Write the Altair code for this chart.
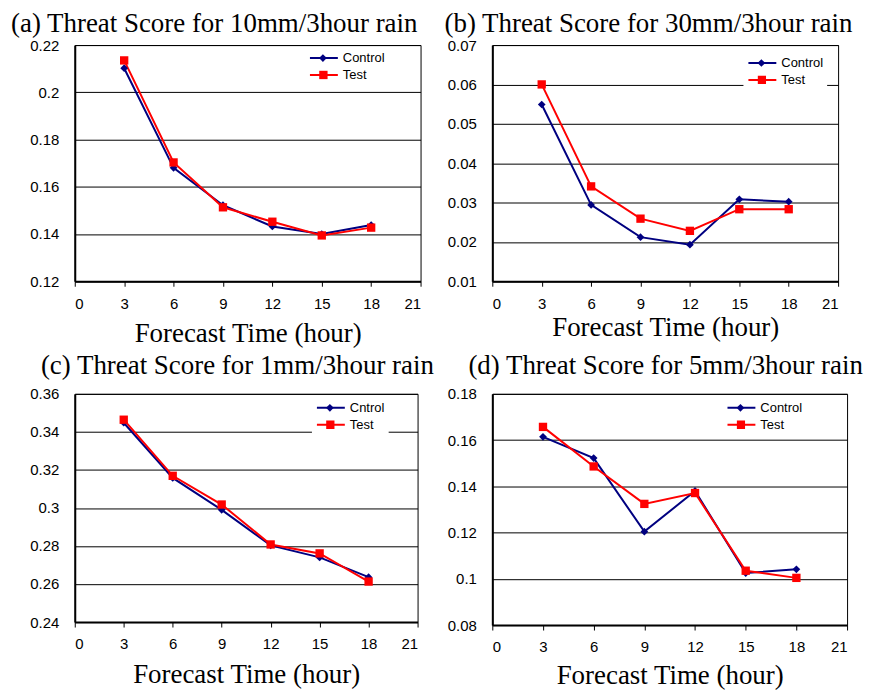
import altair as alt
import pandas as pd

hours = [3, 6, 9, 12, 15, 18]
x_ticks = [0, 3, 6, 9, 12, 15, 18, 21]

names_std = ["Control", "Test"]
names_c = ["Cntrol", "Test"]
series_colors = ["#000080", "#FF0000"]

a_control = [0.2102, 0.1680, 0.1522, 0.1432, 0.1400, 0.1438]
a_test = [0.2135, 0.1703, 0.1513, 0.1452, 0.1394, 0.1427]
b_control = [0.0549, 0.0294, 0.0212, 0.0193, 0.0308, 0.0302]
b_test = [0.0600, 0.0341, 0.0259, 0.0228, 0.0283, 0.0283]
c_control = [0.3448, 0.3158, 0.2990, 0.2803, 0.2740, 0.2636]
c_test = [0.3464, 0.3169, 0.3018, 0.2808, 0.2761, 0.2613]
d_control = [0.1614, 0.1522, 0.1204, 0.1380, 0.1025, 0.1041]
d_test = [0.1657, 0.1486, 0.1324, 0.1371, 0.1035, 0.1004]

a_ticks = [0.12, 0.14, 0.16, 0.18, 0.2, 0.22]
b_ticks = [0.01, 0.02, 0.03, 0.04, 0.05, 0.06, 0.07]
c_ticks = [0.24, 0.26, 0.28, 0.3, 0.32, 0.34, 0.36]
d_ticks = [0.08, 0.1, 0.12, 0.14, 0.16, 0.18]

titles = [
    "(a) Threat Score for 10mm/3hour rain",
    "(b) Threat Score for 30mm/3hour rain",
    "(c) Threat Score for 1mm/3hour rain",
    "(d) Threat Score for 5mm/3hour rain",
]
x_title = "Forecast Time (hour)"

SERIF = "Liberation Serif"
SANS = "Liberation Sans"


def panel(title, names, ctrl, test, yticks, width, height, title_dx, title_offset,
          xtitle_pad, lx, ly):
    df = pd.DataFrame({
        "hour": hours + hours,
        "score": ctrl + test,
        "series": [names[0]] * len(hours) + [names[1]] * len(hours),
    })
    x = alt.X("hour:Q",
              scale=alt.Scale(domain=[x_ticks[0], x_ticks[-1]], nice=False, zero=False),
              axis=alt.Axis(values=x_ticks, title=x_title, grid=False,
                            labelFont=SANS, labelFontSize=15, labelColor="black",
                            tickColor="black", tickSize=5, labelPadding=10,
                            domainColor="black", domainWidth=2,
                            titleFont=SERIF, titleFontSize=27, titleFontWeight="normal",
                            titleColor="black", titlePadding=xtitle_pad))
    y = alt.Y("score:Q",
              scale=alt.Scale(domain=[yticks[0], yticks[-1]], nice=False, zero=False),
              axis=alt.Axis(values=yticks, format="~g", title=None, grid=True,
                            gridColor="black", gridWidth=1, ticks=False,
                            labelFont=SANS, labelFontSize=15, labelColor="black",
                            labelPadding=16, domainColor="black", domainWidth=2))
    color_scale = alt.Scale(domain=names, range=series_colors)

    # legend: line symbols + labels (from the line layer)
    line_legend = alt.Legend(
        title=None, orient="none", legendX=lx, legendY=ly, fillColor="white",
        padding=4, labelFont=SANS, labelFontSize=13, labelColor="black",
        symbolType="stroke", symbolSize=784, symbolStrokeWidth=2,
        clipHeight=14, rowPadding=3, labelOffset=4, zindex=1,
    )

    # marker overlays (one small legend per series, no labels)
    def marker_legend(shape, size, row):
        return alt.Legend(
            title=None, orient="none", legendX=lx + 14, legendY=ly + 4 + row * 17,
            padding=0, symbolType=shape, symbolSize=size, symbolStrokeWidth=0,
            symbolOpacity=1, clipHeight=14, labelExpr="''", labelFontSize=1,
            labelOffset=0, zindex=2, values=[names[row]],
        )

    line = alt.Chart(df).mark_line(strokeWidth=2).encode(
        x=x, y=y, stroke=alt.Stroke("series:N", scale=color_scale, legend=line_legend))
    ctrl_pts = alt.Chart(df).transform_filter(
        alt.datum.series == names[0]).mark_point(
        filled=True, opacity=1, size=60, shape="diamond").encode(
        x=x, y=y, fill=alt.Fill("series:N", scale=color_scale,
                                legend=marker_legend("diamond", 60, 0)))
    test_pts = alt.Chart(df).transform_filter(
        alt.datum.series == names[1]).mark_point(
        filled=True, opacity=1, size=70, shape="square").encode(
        x=x, y=y, fill=alt.Fill("series:N", scale=color_scale,
                                legend=marker_legend("square", 70, 1)))
    return alt.layer(line, ctrl_pts, test_pts).resolve_scale(
        fill="independent").resolve_legend(fill="independent").properties(
        width=width, height=height,
        title=alt.TitleParams(title, anchor="start", frame="group", dx=title_dx,
                              offset=title_offset,
                              font=SERIF, fontSize=27, fontWeight="normal", color="black"),
    )


pa = panel(titles[0], names_std, a_control, a_test, a_ticks, 347, 237, -64, 0, 9, 231, 2)
pb = panel(titles[1], names_std, b_control, b_test, b_ticks, 347, 237, -48, 0, 3, 252, 7)
pc = panel(titles[2], names_c, c_control, c_test, c_ticks, 344, 229, -34, 7, 10, 238, 3)
pd_ = panel(titles[3], names_std, d_control, d_test, d_ticks, 356, 232, -24, 7, 8, 231, 3)

res = dict(fill="independent", stroke="independent")
chart = alt.concat(pa, pb, pc, pd_, columns=2, spacing={"row": 113, "column": 72},
                   bounds="flush").resolve_scale(**res).resolve_legend(
    fill="independent", stroke="independent").properties(
    padding={"left": 2, "top": 0, "right": 2, "bottom": 0},
    background="white",
).configure_view(stroke="black", strokeWidth=1)

chart.save("out.html", embed_options={"renderer": "svg", "actions": False})
